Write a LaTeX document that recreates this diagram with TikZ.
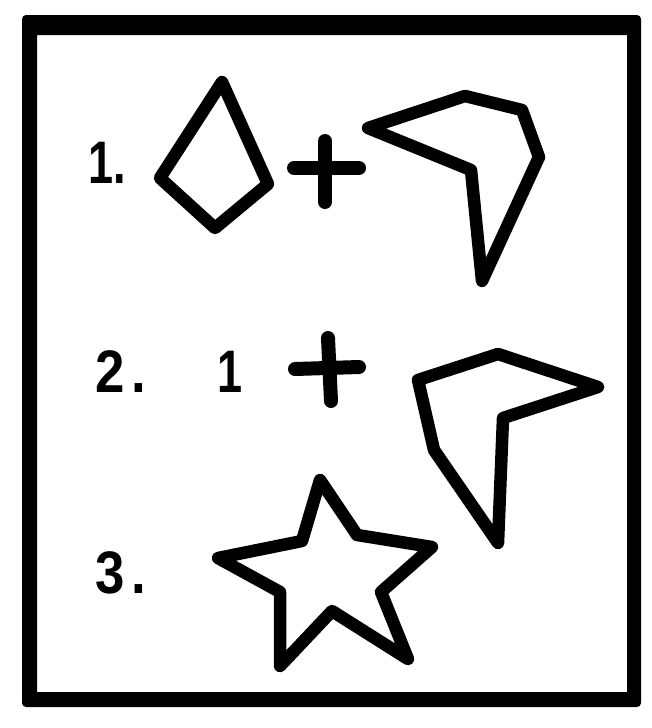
\documentclass[tikz,border=0pt]{standalone}
\usepackage{fontspec}
\setmainfont{Liberation Sans}
\begin{document}
\begin{tikzpicture}[x=1pt,y=-1pt,
  shp/.style={line width=12.5pt,line join=round,line cap=round},
  plusbar/.style={line width=14pt,line cap=round},
  lbl/.style={anchor=base west,inner sep=0pt,font=\bfseries\fontsize{60}{64}\selectfont}]
\useasboundingbox (0,0) rectangle (651,728);
% frame
\fill[even odd rule,rounded corners=4pt] (22,15) -- (641,15) -- (641,707) -- (22,707) -- cycle
  [sharp corners] (37,35) -- (627,35) -- (627,692) -- (37,692) -- cycle;
% row 1
\node[lbl,xscale=0.75,font=\fontsize{60}{64}\selectfont\mdseries\bfseries] (l1) at (88,183) {1.};
\draw[shp] (222,82) -- (160,178) -- (215,228) -- (268,184) -- cycle;
\coordinate (p1t) at (325,141); \coordinate (p1b) at (325,202);
\coordinate (p1l) at (294,168); \coordinate (p1r) at (359,168);
\draw[plusbar] (p1t) -- (p1b);
\draw[plusbar] (p1l) -- (p1r);
\draw[shp] (368,128) -- (465,96) -- (522,110) -- (539,157) -- (482,281) -- (471,170) -- cycle;
% row 2
\node[lbl,xscale=0.88] (l2) at (95,392) {2\hspace{8pt}.};
\node[lbl,xscale=0.75] (l2b) at (217,392) {1};
\coordinate (p2t) at (328,338); \coordinate (p2b) at (331,401);
\coordinate (p2l) at (295,369); \coordinate (p2r) at (359,367);
\draw[plusbar] (p2t) -- (p2b);
\draw[plusbar] (p2l) -- (p2r);
\draw[shp] (418,380) -- (498,354) -- (598,387) -- (503,418) -- (498,543) -- (434,450) -- cycle;
% row 3
\node[lbl,xscale=0.88] (l3) at (95,593) {3\hspace{8pt}.};
\draw[shp] (320,480) -- (357,535) -- (432,547) -- (381,592) -- (408,659) -- (332,611)
  -- (280,666) -- (280,592) -- (218,558) -- (302,541) -- cycle;
\end{tikzpicture}
\end{document}
